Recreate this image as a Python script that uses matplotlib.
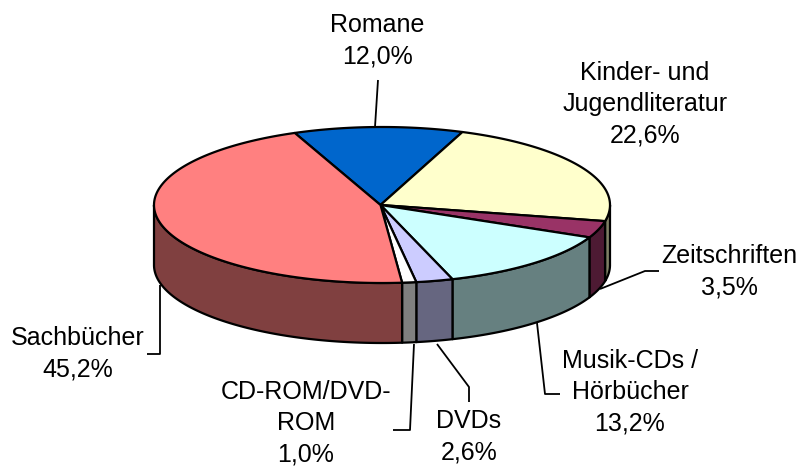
import numpy as np
import matplotlib
matplotlib.use("Agg")
import matplotlib.pyplot as plt

categories = ["Romane", "Kinder- und\nJugendliteratur", "Zeitschriften", "Musik-CDs /\nHörbücher",
              "DVDs", "CD-ROM/DVD-\nROM", "Sachbücher"]
values = [12.0, 22.6, 3.5, 13.2, 2.6, 1.0, 45.2]
value_labels = ["12,0%", "22,6%", "3,5%", "13,2%", "2,6%", "1,0%", "45,2%"]
top_colors = ["#0066CC", "#FFFFCC", "#993366", "#CCFFFF", "#CCCCFF", "#FFFFFF", "#FF8080"]
side_colors = ["#003366", "#808066", "#4D1A33", "#668080", "#666680", "#808080", "#804040"]

CX, CY, RX, RY, DEPTH = 382, 205, 228, 78, 60
APEX_X = 380.5
START = 112.5

label_xy = [(377, 41), (645, 104), (729, 272), (630, 392), (469, 437), (306, 423), (78, 354)]
leaders = [
    [(375, 127), (378, 80)],
    None,
    [(600, 289), (645, 271), (659, 271)],
    [(537, 323), (545, 394), (560, 394)],
    [(437, 344), (469, 387), (469, 402)],
    [(414, 344), (410, 430), (393, 430)],
    [(160, 285), (160, 354), (147, 354)],
]

fig = plt.figure(figsize=(8.0, 4.67), dpi=100)
ax = fig.add_axes([0, 0, 1, 1])
ax.set_xlim(0, 800)
ax.set_ylim(467, 0)
ax.axis("off")
plt.rcParams["font.family"] = ["Liberation Sans", "DejaVu Sans"]


def rim(a0, a1, dy=0.0):
    t = np.radians(np.linspace(a0, a1, max(2, int(abs(a1 - a0)) * 2 + 2)))
    return CX + RX * np.cos(t), CY - RY * np.sin(t) + dy


fractions = np.array(values) / sum(values)
bounds = START - 360 * np.concatenate([[0], np.cumsum(fractions)])

# side walls: the part of each slice facing the viewer (angles from -180 to 0, mod 360)
for k in (0, -360):
    for i in range(len(values)):
        a0, a1 = bounds[i] + k + 360, bounds[i + 1] + k + 360  # a0 > a1
        hi, lo = min(a0, 360.0), max(a1, 180.0)
        if hi <= lo:
            continue
        x, y = rim(hi, lo)
        xb, yb = rim(hi, lo, DEPTH)
        ax.fill(np.r_[x, xb[::-1]], np.r_[y, yb[::-1]], facecolor=side_colors[i],
                edgecolor="black", lw=1.6, joinstyle="round", zorder=2)

# top faces
for i in range(len(values)):
    x, y = rim(bounds[i], bounds[i + 1])
    ax.fill(np.r_[APEX_X, x], np.r_[CY, y], facecolor=top_colors[i], edgecolor="black",
            lw=1.6, joinstyle="round", zorder=3)

# labels and leader lines
for i, name in enumerate(categories):
    ax.text(*label_xy[i], f"{name}\n{value_labels[i]}", ha="center", va="center",
            fontsize=18, color="black", linespacing=1.39, zorder=5)
    if leaders[i]:
        pts = np.array(leaders[i])
        ax.plot(pts[:, 0], pts[:, 1], color="black", lw=1.3, zorder=1.5, solid_capstyle="butt")

fig.savefig("out.png", dpi=100)
